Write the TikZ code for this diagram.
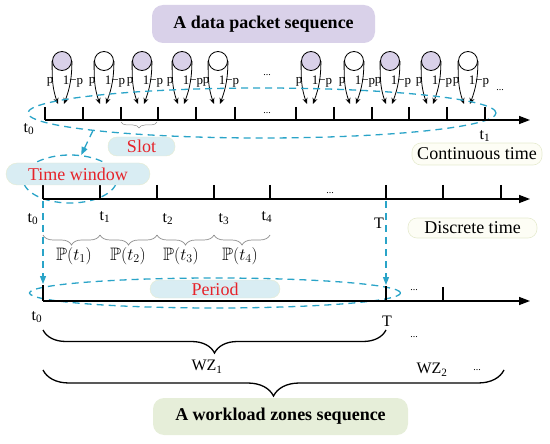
\documentclass[tikz,border=0pt]{standalone}
\usepackage{amssymb}
\usepackage{fontspec}
\setmainfont{Liberation Serif}
\usetikzlibrary{arrows.meta, positioning, shapes.geometric, decorations.pathreplacing}
\definecolor{lilac}{HTML}{D9D1E9}
\definecolor{winblue}{HTML}{2AA4C8}
\definecolor{tagblue}{HTML}{D9EDF3}
\definecolor{tagred}{HTML}{E6232A}
\definecolor{zonegreen}{HTML}{E6EED9}
\definecolor{cream}{HTML}{FDFDF5}
\definecolor{creamline}{HTML}{E6EBD0}
\definecolor{bracegray}{HTML}{8C8C8C}
\newcommand{\pkt}[3]{%
  \node[pktcirc, fill=#3] (#1) at (#2,-61) {};
  \coordinate (#1L) at (#2-4,-104);
  \coordinate (#1R) at (#2+2,-104);
  \draw[pktarr] (#1.west) to[out=-90, in=110] (#1L);
  \draw[pktarr] (#1.east) to[out=-90, in=70] (#1R);
  \node[pktlbl] (#1p) at (#2-12,-82) {p};
  \node[pktlbl] (#1q) at (#2+11,-82) {1−p};%
}

\begin{document}
\begin{tikzpicture}[x=1pt, y=1pt]
  \tikzset{
    axis/.style={line width=1.4pt, -{Triangle[length=11pt, width=8pt]}},
    tickmark/.style={line width=1.4pt},
    pktcirc/.style={circle, draw=black, line width=0.8pt, minimum size=19pt, inner sep=0pt},
    pktarr/.style={line width=0.8pt, -{Stealth[length=6pt, width=5pt]}},
    pktlbl/.style={font=\fontsize{13}{14}\selectfont, inner sep=0pt},
    tlbl/.style={font=\fontsize{16}{18}\selectfont, inner sep=0pt},
    dotlbl/.style={font=\fontsize{10}{12}\selectfont, inner sep=0pt},
    win/.style={ellipse, draw=winblue, line width=1.3pt, dash pattern=on 7pt off 5pt, inner sep=0pt},
    winarr/.style={draw=winblue, line width=1.3pt, dash pattern=on 7pt off 5pt, -{Triangle[length=8pt, width=6pt]}},
    tagbox/.style={rounded corners=9pt, fill=tagblue, draw=creamline, line width=0.4pt, text=tagred, font=\fontsize{18}{20}\selectfont, inner sep=0pt},
    notebox/.style={rounded corners=9pt, fill=cream, draw=creamline, line width=0.6pt, font=\fontsize{18}{20}\selectfont, inner sep=0pt},
    headbox/.style={rounded corners=11pt, font=\fontsize{18}{20}\selectfont\bfseries, inner sep=0pt},
    pbrace/.style={decorate, decoration={brace, mirror, amplitude=10pt}, draw=bracegray, line width=0.7pt},
    sbrace/.style={decorate, decoration={brace, mirror, amplitude=6pt}, draw=bracegray, line width=0.5pt},
    zbrace/.style={decorate, decoration={brace, mirror, amplitude=#1}, line width=1.3pt}
  }
  \useasboundingbox (0,0) rectangle (550,-444);

  \node[headbox, fill=lilac, minimum width=223pt, minimum height=38pt] (head) at (263.5,-24) {A data packet sequence};

  \pkt{pa}{62}{lilac}
  \pkt{pb}{104}{white}
  \pkt{pc}{142}{lilac}
  \pkt{pd}{182}{lilac}
  \pkt{pe}{218}{white}
  \pkt{pf}{311}{lilac}
  \pkt{pg}{354}{white}
  \pkt{ph}{390}{lilac}
  \pkt{pi}{431}{lilac}
  \pkt{pj}{468}{white}
  \node[dotlbl] (dtop1) at (267,-75) {...};
  \node[dotlbl] (dtop2) at (500,-90) {...};

  \node[win, minimum width=468pt, minimum height=50pt] (win1) at (262,-113) {};
  \node[win, minimum width=94pt, minimum height=48pt] (twin) at (70,-179) {};
  \node[win, minimum width=371pt, minimum height=30pt] (pwin) at (215,-293) {};

  \draw[axis] (45,-120) -- (530,-120);
  \draw[tickmark] (45,-107) -- (45,-120) (83,-107) -- (83,-120) (121,-107) -- (121,-120)
    (158,-107) -- (158,-120) (196,-107) -- (196,-120) (235,-107) -- (235,-120)
    (296,-107) -- (296,-120) (334,-107) -- (334,-120) (372,-107) -- (372,-120)
    (409,-107) -- (409,-120) (447,-107) -- (447,-120) (485,-107) -- (485,-120);
  \node[dotlbl] (dmid1) at (267,-113) {...};
  \node[tlbl] (a0) at (29,-129) {t\textsubscript{0}};
  \node[tlbl] (a1) at (485,-136) {t\textsubscript{1}};
  \draw[sbrace] (121,-122) -- (157,-122);

  \draw[axis] (43,-199) -- (530,-199);
  \draw[tickmark] (43,-185) -- (43,-199) (100,-185) -- (100,-199) (157,-185) -- (157,-199)
    (214,-185) -- (214,-199) (270,-185) -- (270,-199) (386,-185) -- (386,-199)
    (443,-185) -- (443,-199) (501,-185) -- (501,-199);
  \node[dotlbl] (dmid2) at (330,-193) {...};
  \node[tlbl] (b0) at (33,-219) {t\textsubscript{0}};
  \node[tlbl] (b1) at (105,-217) {t\textsubscript{1}};
  \node[tlbl] (b2) at (168,-219) {t\textsubscript{2}};
  \node[tlbl] (b3) at (224,-219) {t\textsubscript{3}};
  \node[tlbl] (b4) at (267,-217) {t\textsubscript{4}};
  \node[tlbl] (bT) at (379,-223) {T};
  \draw[pbrace] (43,-235) -- (100,-235);
  \draw[pbrace] (100,-235) -- (157,-235);
  \draw[pbrace] (157,-235) -- (214,-235);
  \draw[pbrace] (214,-235) -- (270,-235);
  \node[font=\fontsize{18}{20}\selectfont] (pr1) at (74,-256) {$\mathbb{P}(t_1)$};
  \node[font=\fontsize{18}{20}\selectfont] (pr2) at (128,-256) {$\mathbb{P}(t_2)$};
  \node[font=\fontsize{18}{20}\selectfont] (pr3) at (181,-256) {$\mathbb{P}(t_3)$};
  \node[font=\fontsize{18}{20}\selectfont] (pr4) at (240,-256) {$\mathbb{P}(t_4)$};

  \draw[axis] (43,-301) -- (530,-301);
  \draw[tickmark] (43,-285) -- (43,-301) (386,-286) -- (386,-301) (443,-287) -- (443,-301);
  \node[dotlbl] (dmid3) at (414,-290) {...};
  \node[tlbl] (c0) at (37,-317) {t\textsubscript{0}};
  \node[tlbl] (cT) at (387,-321) {T};

  \coordinate (d0) at (43,-201);
  \coordinate (q0) at (43,-284);
  \coordinate (dT) at (386,-201);
  \coordinate (qT) at (386,-285);
  \draw[winarr] (win1.186) -- (twin.65);
  \draw[winarr] (d0) -- (q0);
  \draw[winarr] (dT) -- (qT);

  \node[tagbox, minimum width=67pt, minimum height=19pt] (slot) at (141.5,-146.5) {Slot};
  \node[tagbox, rounded corners=11pt, minimum width=144pt, minimum height=22pt] (tw) at (78,-174) {Time window};
  \node[tagbox, minimum width=130pt, minimum height=18pt] (period) at (215,-289) {Period};
  \node[notebox, minimum width=130pt, minimum height=22pt] (cont) at (477,-154) {Continuous time};
  \node[notebox, minimum width=129pt, minimum height=20pt] (disc) at (472.5,-228) {Discrete time};

  \draw[zbrace=23pt] (43,-330) -- (386,-330);
  \node[tlbl] (wz1) at (207,-367) {WZ\textsubscript{1}};
  \node[dotlbl] (dlow1) at (414,-337) {...};
  \draw[zbrace=26pt] (43,-370) -- (504,-370);
  \node[tlbl] (wz2) at (432,-370) {WZ\textsubscript{2}};
  \node[dotlbl] (dlow2) at (477,-370) {...};

  \node[headbox, fill=zonegreen, minimum width=255pt, minimum height=37pt] (tail) at (280.5,-416.5) {A workload zones sequence};
\end{tikzpicture}
\end{document}
